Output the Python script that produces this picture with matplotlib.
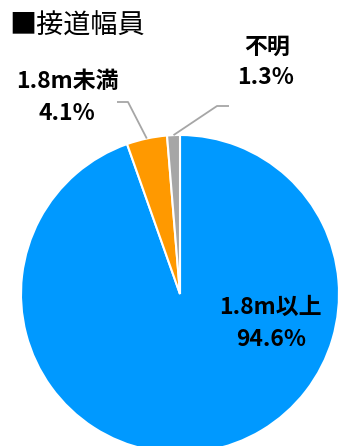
import matplotlib.pyplot as plt
import numpy as np

# data
labels = ['1.8m以上', '1.8m未満', '不明']
shares = [94.6, 4.1, 1.3]
colors = ['#0099ff', '#ff9900', '#a6a6a6']
title = '■接道幅員'

W, H = 340, 446
fig = plt.figure(figsize=(W / 100, H / 100), dpi=100)
ax = fig.add_axes([0, 0, 1, 1])

cx, cy, r = 180, H - 294, 159
wedges, _ = ax.pie(shares, colors=colors, startangle=90, counterclock=False,
                   center=(cx, cy), radius=r, frame=True,
                   wedgeprops=dict(edgecolor='white', linewidth=1.5))
ax.set_xlim(0, W)
ax.set_ylim(0, H)
ax.set_aspect('equal')
ax.axis('off')

lab_font = dict(family=['DejaVu Sans Condensed', 'Noto Sans CJK JP'],
                fontweight='bold', fontsize=16.5, color='black',
                ha='center', va='center')

# label positions (pixel coords from top-left): text centre, elbow, line end
layout = {
    1: dict(text=(67, 82), pct=(67, 114), elbow=(128, 102), end=(117, 102)),
    2: dict(text=(267, 47), pct=(266, 78), elbow=(217, 106), end=(229, 106)),
}

for i, w in enumerate(wedges):
    name = labels[i]
    pct = f'{shares[i]:.1f}%'
    if i == 0:
        ax.text(270, H - 307, name, **lab_font)
        ax.text(271, H - 339, pct, **lab_font)
        continue
    lo = layout[i]
    mid = np.deg2rad((w.theta1 + w.theta2) / 2)
    x0 = cx + r * np.cos(mid)
    y0 = cy + r * np.sin(mid)
    ex, ey = lo['elbow']
    fx, fy = lo['end']
    ax.plot([x0, ex, fx], [y0, H - ey, H - fy], color='#a6a6a6', lw=1.3,
            solid_capstyle='butt')
    ax.text(lo['text'][0], H - lo['text'][1], name, **lab_font)
    ax.text(lo['pct'][0], H - lo['pct'][1], pct, **lab_font)

ax.text(9, H - 26, title, family=['Noto Sans CJK JP', 'DejaVu Sans'],
        fontsize=19.5, ha='left', va='center', color='black')

fig.savefig('out.png', dpi=100)
